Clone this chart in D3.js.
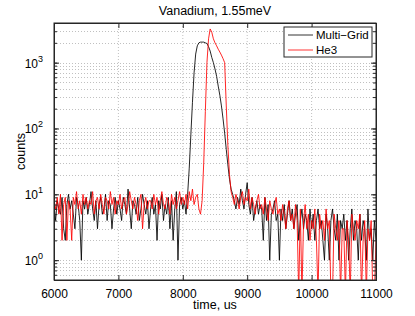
<!DOCTYPE html>
<html>
<head>
<meta charset="utf-8">
<script src="https://cdn.jsdelivr.net/npm/d3@7"></script>
<style>
  body { margin: 0; background: #fff; }
  svg text { font-family: "Liberation Sans", Arial, sans-serif; fill: #000; }
</style>
</head>
<body>
<div id="chart"></div>
<script>
// histogram bins: 25 us wide, first bin at 6000 us
const binStart = 6000;
const binWidth = 25;

// Multi-Grid counts per bin (6000 .. 11000 us)
const multiGrid = [
  7, 4, 8, 6, 5, 9, 3, 2, 7, 10, 6, 8, 5, 3, 9, 7, 4, 1, 8, 6,
  9, 5, 7, 11, 6, 4, 8, 3, 7, 9, 5, 6, 10, 4, 8, 7, 3, 6, 9, 5,
  8, 6, 4, 9, 7, 5, 12, 6, 3, 8, 7, 5, 9, 4, 6, 10, 7, 5, 8, 3,
  6, 9, 5, 7, 2, 8, 6, 10, 4, 7, 5, 9, 3, 8, 2, 6, 11, 1, 7, 9,
  6, 8, 5, 10, 25, 80, 250, 700, 1350, 1800, 2000, 2050, 2050, 2050, 2000, 1950, 1750, 1500, 1200, 1000,
  800, 620, 440, 320, 220, 140, 85, 48, 28, 17, 12, 10, 8, 6, 9, 7, 12, 8, 6, 10,
  15, 7, 5, 9, 4, 6, 8, 5, 7, 6, 2, 9, 4, 7, 1, 5, 6, 8, 4, 5,
  1, 6, 4, 7, 3, 5, 8, 4, 6, 3, 5, 7, 2, 4, 6, 3, 5, 4, 2, 6,
  3, 5, 2, 4, 6, 3, 4, 2, 1, 5, 3, 1, 4, 6, 3, 2, 5, 1, 4, 3,
  5, 2, 4, 1, 3, 6, 2, 4, 3, 1, 5, 2, 4, 3, 1, 6, 2, 3, 1, 4,
  2
];

// He3 counts per bin (6000 .. 11000 us)
const he3 = [
  8, 6, 9, 5, 10, 2, 7, 9, 2, 8, 6, 2, 9, 7, 11, 6, 8, 5, 10, 7,
  9, 6, 8, 7, 11, 5, 8, 9, 6, 10, 7, 5, 9, 8, 6, 11, 7, 9, 5, 8,
  7, 10, 6, 8, 9, 5, 7, 11, 8, 6, 9, 7, 4, 8, 10, 3, 7, 9, 6, 8,
  8, 6, 10, 7, 9, 5, 8, 11, 7, 6, 9, 8, 5, 10, 7, 9, 6, 8, 11, 7,
  9, 7, 10, 6, 11, 8, 12, 7, 9, 10, 6, 5, 8, 30, 180, 1000, 2300, 3250, 2900, 2300,
  2000, 1800, 1600, 1450, 1300, 1150, 1000, 220, 55, 20, 11, 9, 7, 10, 8, 6, 9, 11, 7, 9,
  8, 12, 6, 9, 7, 5, 8, 10, 6, 7, 5, 9, 6, 4, 8, 6, 5, 7, 9, 5,
  6, 4, 7, 5, 3, 6, 8, 4, 5, 3, 7, 4, 0, 6, 0, 4, 7, 3, 5, 2,
  4, 3, 6, 2, 0, 5, 3, 4, 2, 6, 3, 4, 0, 0, 5, 3, 2, 4, 0, 3,
  3, 0, 4, 2, 0, 5, 3, 2, 4, 3, 5, 0, 2, 4, 0, 3, 2, 4, 0, 0,
  2
];

const xTicks = [6000, 7000, 8000, 9000, 10000, 11000];
const yTickExps = [0, 1, 2, 3];
const seriesNames = ["Multi\u2212Grid", "He3"];
const seriesColors = ["#000000", "#ff0000"];

const W = 415, H = 316;
const margin = {top: 23, right: 39, bottom: 36, left: 54};
const innerW = W - margin.left - margin.right;
const innerH = H - margin.top - margin.bottom;

const svg = d3.select("#chart").append("svg")
    .attr("width", W)
    .attr("height", H);

const x = d3.scaleLinear().domain([6000, 11000]).range([0, innerW]);
const y = d3.scaleLog().domain([0.5, 4000]).range([innerH, 0]);

const g = svg.append("g")
    .attr("transform", `translate(${margin.left},${margin.top})`);

g.append("rect")
    .attr("width", innerW).attr("height", innerH)
    .attr("fill", "#fff");

// minor values for log axis (1..9 x 10^k inside the domain)
const minorVals = [];
[-1, 0, 1, 2, 3].forEach(k => {
    for (let m = 1; m <= 9; m++) {
        const v = m * Math.pow(10, k);
        if (v >= 0.5 && v <= 4000) minorVals.push(v);
    }
});

// grid
const grid = g.append("g").attr("class", "grid")
    .attr("stroke", "#b0b0b0")
    .attr("stroke-width", 0.8)
    .attr("stroke-dasharray", "1,2");

grid.selectAll(".gx").data(xTicks.slice(1, -1)).enter().append("line")
    .attr("x1", d => x(d)).attr("x2", d => x(d))
    .attr("y1", 0).attr("y2", innerH);

grid.selectAll(".gy").data(minorVals).enter().append("line")
    .attr("x1", 0).attr("x2", innerW)
    .attr("y1", d => Math.round(y(d)) + 0.5).attr("y2", d => Math.round(y(d)) + 0.5);

// data lines
g.append("clipPath").attr("id", "clip")
    .append("rect").attr("width", innerW).attr("height", innerH);

const line = d3.line()
    .x((d, i) => x(binStart + i * binWidth))
    .y(d => y(Math.max(d, 0.3)));

[multiGrid, he3].forEach((series, si) => {
    g.append("path")
        .datum(series)
        .attr("clip-path", "url(#clip)")
        .attr("fill", "none")
        .attr("stroke", seriesColors[si])
        .attr("stroke-width", 0.85)
        .attr("stroke-linejoin", "round")
        .attr("d", line);
});

// axes, MATLAB style: ticks inside, box on
const axisColor = "#262626";

const xAxis = g.append("g")
    .attr("transform", `translate(0,${innerH})`)
    .call(d3.axisBottom(x).tickValues(xTicks).tickSize(-5).tickPadding(9).tickFormat(d3.format("d")));
xAxis.selectAll("text").style("font-size", "12px");

g.append("g")
    .call(d3.axisTop(x).tickValues(xTicks).tickSize(-5).tickFormat(""));

g.append("g")
    .call(d3.axisLeft(y).tickValues(minorVals).tickSize(-3).tickFormat(""));
g.append("g")
    .attr("transform", `translate(${innerW},0)`)
    .call(d3.axisRight(y).tickValues(minorVals).tickSize(-3).tickFormat(""));

g.append("g")
    .call(d3.axisLeft(y).tickValues(yTickExps.map(e => Math.pow(10, e))).tickSize(-5).tickFormat(""));
g.append("g")
    .attr("transform", `translate(${innerW},0)`)
    .call(d3.axisRight(y).tickValues(yTickExps.map(e => Math.pow(10, e))).tickSize(-5).tickFormat(""));

g.selectAll(".domain").attr("stroke", axisColor);
g.selectAll(".tick line").attr("stroke", axisColor);

// y labels: 10 with superscript exponent
yTickExps.forEach(e => {
    const t = g.append("text")
        .attr("x", -11)
        .attr("y", y(Math.pow(10, e)) + 5)
        .attr("text-anchor", "end")
        .style("font-size", "12px");
    t.append("tspan").text("10");
    t.append("tspan").attr("dy", -6).style("font-size", "9px").text(e);
});

// outer box
g.append("rect")
    .attr("width", innerW).attr("height", innerH)
    .attr("fill", "none")
    .attr("stroke", axisColor)
    .attr("stroke-width", 1);

// title and labels
svg.append("text")
    .attr("x", margin.left + innerW / 2)
    .attr("y", 15)
    .attr("text-anchor", "middle")
    .style("font-size", "12.5px")
    .text("Vanadium, 1.55meV");

svg.append("text")
    .attr("x", margin.left + innerW / 2)
    .attr("y", 309)
    .attr("text-anchor", "middle")
    .style("font-size", "12.5px")
    .text("time, us");

svg.append("text")
    .attr("transform", `translate(25,${margin.top + innerH / 2}) rotate(-90)`)
    .attr("text-anchor", "middle")
    .style("font-size", "12.5px")
    .text("counts");

// legend
const legend = svg.append("g").attr("transform", "translate(284,27)");
legend.append("rect")
    .attr("width", 88).attr("height", 30)
    .attr("fill", "#fff")
    .attr("stroke", axisColor)
    .attr("stroke-width", 1);

seriesNames.forEach((name, i) => {
    const ly = 8 + i * 15;
    legend.append("line")
        .attr("x1", 4).attr("x2", 29)
        .attr("y1", ly).attr("y2", ly)
        .attr("stroke", seriesColors[i])
        .attr("stroke-width", 0.8);
    legend.append("text")
        .attr("x", 32)
        .attr("y", ly + 4)
        .style("font-size", "11.5px")
        .text(name);
});
</script>
</body>
</html>
